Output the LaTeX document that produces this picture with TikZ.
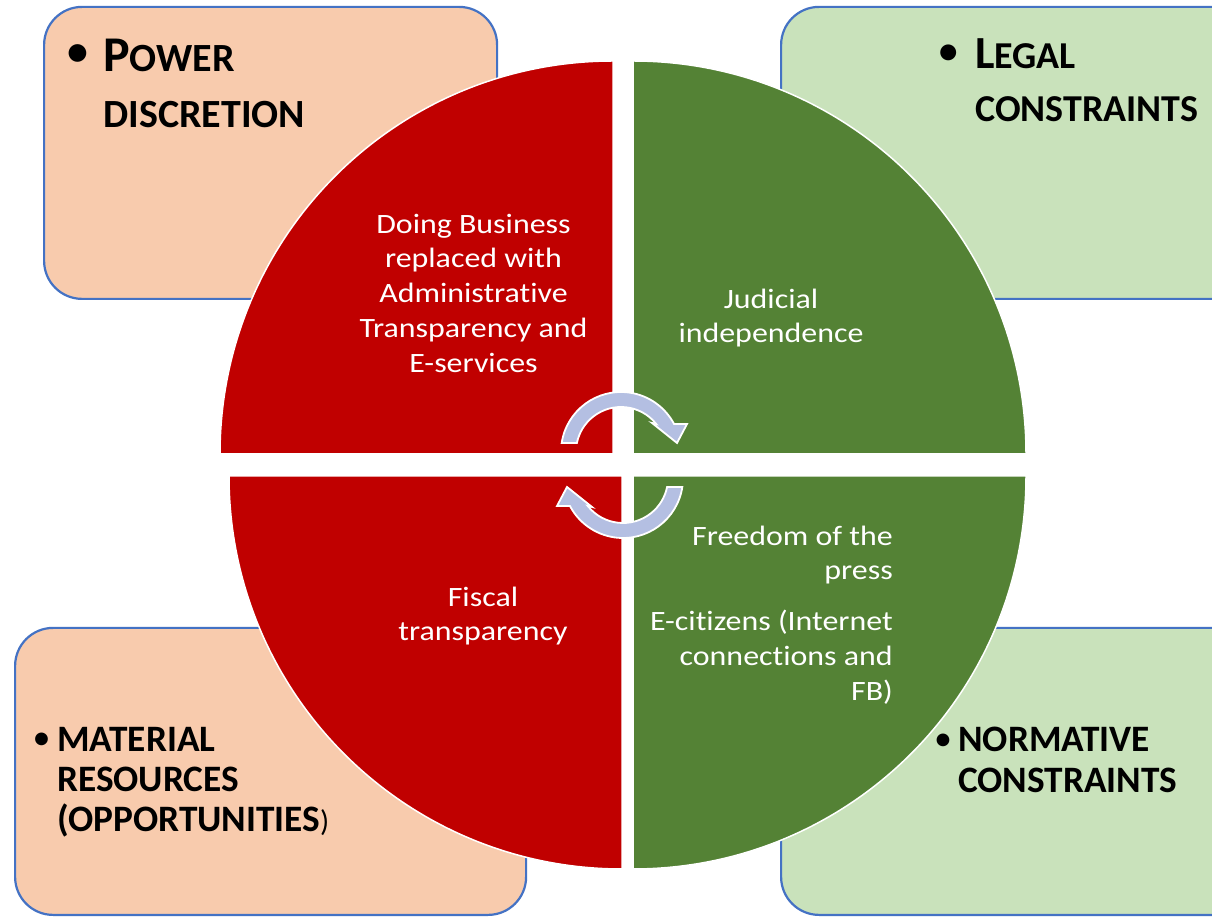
\documentclass[tikz,border=0pt]{standalone}
\usepackage{fontspec}
\setmainfont{Carlito}[Ligatures=NoCommon]
\newfontfamily\widefont{Carlito}[FakeStretch=1.14, Ligatures=NoCommon]
\usetikzlibrary{calc}
\definecolor{peach}{HTML}{F8CBAD}
\definecolor{lgreen}{HTML}{C9E2BB}
\definecolor{bord}{HTML}{4472C4}
\definecolor{qred}{HTML}{C00000}
\definecolor{qgreen}{HTML}{548235}
\definecolor{arrowblue}{HTML}{B4BFE2}
\tikzset{
  box/.style={draw=bord, line width=2.2pt, rounded corners=38pt, anchor=south west, inner sep=0pt},
  quad/.style={draw=white, line width=1.5pt},
  intext/.style={text=white, font=\widefont\fontsize{28}{34.75}\selectfont, inner sep=0pt, align=center},
  tline/.style={font=\bfseries\fontsize{40}{48}\selectfont, inner sep=0pt, anchor=base west},
  bline/.style={font=\bfseries\fontsize{37.3}{40}\selectfont, inner sep=0pt, anchor=base west},
  bul/.style={inner sep=0pt},
  carrow/.style={fill=arrowblue, draw=white, line width=1.8pt, line join=miter}
}
\begin{document}
\begin{tikzpicture}[x=1pt,y=1pt]
\clip (0,0) rectangle (1212,918);
\fill[white] (0,0) rectangle (1212,918);
% boxes
\node[box, fill=peach, minimum width=453pt, minimum height=292pt] (pd) at (43,618) {};
\node[box, fill=lgreen, minimum width=470pt, minimum height=292pt] (lc) at (780,618) {};
\node[box, fill=peach, minimum width=511pt, minimum height=287pt] (mr) at (14,2) {};
\node[box, fill=lgreen, minimum width=470pt, minimum height=287pt] (nc) at (780,2) {};
% quadrants
\path[quad, fill=qred] (613,464) -- (220,464) arc[start angle=180, end angle=90, radius=393] -- cycle;
\path[quad, fill=qgreen] (633,464) -- (633,857) arc[start angle=90, end angle=0, radius=393] -- cycle;
\path[quad, fill=qred] (622,442) -- (229,442) arc[start angle=180, end angle=270, radius=393] -- cycle;
\path[quad, fill=qgreen] (633,442) -- (1026,442) arc[start angle=0, end angle=-90, radius=393] -- cycle;
% circular arrows
\path[carrow] ($(621,466)+(171.4:60)$) arc[start angle=171.4, end angle=27.8, radius=60]
  -- (687,494) -- (677,475) -- (652,495) -- ($(621,466)+(38.5:45)$)
  arc[start angle=38.5, end angle=168.5, radius=45] -- cycle;
\path[carrow, rotate around={180:(622,453)}] ($(621,466)+(171.4:60)$) arc[start angle=171.4, end angle=27.8, radius=60]
  -- (687,494) -- (677,475) -- (652,495) -- ($(621,466)+(38.5:45)$)
  arc[start angle=38.5, end angle=168.5, radius=45] -- cycle;
% quadrant texts
\node[intext] (doing) at (473.5,625) {Doing Business\\replaced with\\Administrative\\Transparency and\\E-services};
\node[intext] (judicial) at (771,600) {Judicial\\independence};
\node[intext] (fiscal) at (483,302) {Fiscal\\transparency};
\node[intext, align=right, anchor=east] (freedom) at (893,363) {Freedom of the\\press};
\node[intext, align=right, anchor=east] (ecit) at (893,261) {E-citizens (Internet\\connections and\\FB)};
% box titles
\node[bul, font=\fontsize{50}{60}\selectfont] (pdb) at (78,862) {\textbullet};
\node[tline] (pd1) at (103,846) {{\fontsize{50}{60}\selectfont P}OWER};
\node[tline] (pd2) at (103,790) {DISCRETION};
\node[bul, font=\fontsize{45}{54}\selectfont] (lcb) at (949,863) {\textbullet};
\node[tline, font=\bfseries\fontsize{38}{44}\selectfont] (lc1) at (975,849) {{\fontsize{46}{54}\selectfont L}EGAL};
\node[tline, font=\bfseries\fontsize{38}{44}\selectfont] (lc2) at (975,796) {CONSTRAINTS};
\node[bul, font=\fontsize{36}{40}\selectfont] (mrb) at (41.5,177) {\textbullet};
\node[bline] (mr1) at (57,166) {MATERIAL};
\node[bline] (mr2) at (57,126) {RESOURCES};
\node[bline] (mr3) at (57,86) {(OPPORTUNITIES{\mdseries\fontsize{30}{36}\selectfont)}};
\node[bul, font=\fontsize{36}{40}\selectfont] (ncb) at (943,176) {\textbullet};
\node[bline] (nc1) at (958,166) {NORMATIVE};
\node[bline] (nc2) at (958,125) {CONSTRAINTS};
\end{tikzpicture}
\end{document}
